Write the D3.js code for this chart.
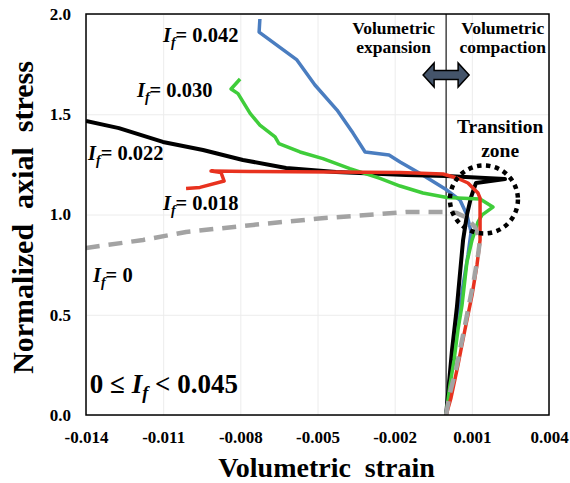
<!DOCTYPE html>
<html>
<head>
<meta charset="utf-8">
<script src="https://cdn.jsdelivr.net/npm/d3@7"></script>
<style>
  body { margin: 0; background: #fff; }
  svg { display: block; font-family: 'Liberation Serif', 'Times New Roman', serif; font-weight: bold; }
  text { white-space: pre; }
</style>
</head>
<body>
<div id="chart"></div>
<script>
const WIDTH = 570;
const HEIGHT = 483;
const MARGIN = { TOP: 14, RIGHT: 21, BOTTOM: 68, LEFT: 86 };
const TICK_FONT_SIZE = 17;

const xDomain = [-0.014, 0.004];
const yDomain = [0, 2];
const xTickValues = [-0.014, -0.011, -0.008, -0.005, -0.002, 0.001, 0.004];
const xTickLabels = ['-0.014', '-0.011', '-0.008', '-0.005', '-0.002', '0.001', '0.004'];
const yTickValues = [0, 0.5, 1, 1.5, 2];
const yTickLabels = ['0.0', '0.5', '1.0', '1.5', '2.0'];

// [volumetric strain, normalized axial stress]
const curveIf042 = [
  [0, 0], [0.00011, 0.15], [0.00027, 0.299], [0.00046, 0.474], [0.00066, 0.648],
  [0.00085, 0.798], [0.00097, 0.913], [0.00081, 0.998], [0.00054, 1.072],
  [0.00003, 1.122], [-0.00101, 1.204], [-0.00179, 1.262], [-0.00222, 1.297],
  [-0.00315, 1.312], [-0.00362, 1.406], [-0.00424, 1.521], [-0.0051, 1.646],
  [-0.0058, 1.771], [-0.00727, 1.91], [-0.00724, 1.975],
];
const curveIf022 = [
  [0, 0], [0.00023, 0.324], [0.00042, 0.539], [0.00066, 0.873], [0.00081, 0.998],
  [0.00097, 1.087], [0.00116, 1.157], [0.00229, 1.177], [0, 1.192],
  [-0.00156, 1.197], [-0.00428, 1.212], [-0.00622, 1.232], [-0.0079, 1.272],
  [-0.00945, 1.322], [-0.01101, 1.362], [-0.01272, 1.431], [-0.014, 1.466],
];
const curveIf030 = [
  [0, 0], [0.00015, 0.15], [0.00031, 0.274], [0.00046, 0.424], [0.00062, 0.549],
  [0.00081, 0.763], [0.00101, 0.873], [0.00124, 0.963], [0.0014, 0.998],
  [0.00155, 1.012], [0.00182, 1.037], [0.00132, 1.077], [0.00003, 1.085],
  [-0.0009, 1.107], [-0.00179, 1.142], [-0.00257, 1.18], [-0.00374, 1.229],
  [-0.00479, 1.279], [-0.00568, 1.312], [-0.0065, 1.354], [-0.00665, 1.387],
  [-0.00724, 1.446], [-0.00762, 1.504], [-0.00809, 1.603], [-0.00836, 1.626],
  [-0.00801, 1.676],
];
const curveIf018 = [
  [0, 0], [0.00019, 0.085], [0.00046, 0.249], [0.00073, 0.424], [0.00101, 0.599],
  [0.0012, 0.748], [0.00132, 0.873], [0.00132, 1.082], [0.00124, 1.107],
  [0.00085, 1.157], [0.00042, 1.182], [-0.00012, 1.202], [-0.00179, 1.209],
  [-0.00451, 1.212], [-0.00762, 1.214], [-0.00914, 1.217], [-0.00875, 1.209],
  [-0.00863, 1.167], [-0.00957, 1.135], [-0.01011, 1.13],
];
const curveIf0 = [
  [0, 0], [0.00015, 0.11], [0.00038, 0.224], [0.00062, 0.374], [0.00085, 0.524],
  [0.00108, 0.673], [0.00124, 0.798], [0.00132, 0.873], [0.00112, 0.938],
  [0.00081, 0.983], [0.00042, 1.007], [0, 1.012], [-0.00156, 1.012],
  [-0.00494, 0.98], [-0.00751, 0.948], [-0.01011, 0.913], [-0.01178, 0.873],
  [-0.014, 0.833],
];

const curveLabels = ['0.042', '0.030', '0.022', '0.018', '0'];
const rangeLabel = ['0 \u2264 ', ' < 0.045'];

// drawing order: blue, black, green, red, grey dashed
const SERIES_STYLE = [
  { data: curveIf042, color: '#4a7dc0', width: 3.5, dash: null },
  { data: curveIf022, color: '#000000', width: 4, dash: null },
  { data: curveIf030, color: '#3fcd3a', width: 3.5, dash: null },
  { data: curveIf018, color: '#e8321f', width: 3.5, dash: null },
  { data: curveIf0, color: '#a3a3a3', width: 4.5, dash: '14 9' },
];

// label anchors in data units [strain, stress]
const LABEL_POS = [
  [-0.01101, 1.862], [-0.01202, 1.586], [-0.01392, 1.272], [-0.01101, 1.022], [-0.01373, 0.663],
];
const RANGE_POS = [-0.01385, 0.11];
const CIRCLE_POS = [0.00147, 1.075];
const ARROW_POS = [0, 1.696];

const getDimensions = () => ({
  width: WIDTH - MARGIN.LEFT - MARGIN.RIGHT,
  height: HEIGHT - MARGIN.TOP - MARGIN.BOTTOM,
});

const addIfLabel = (g, x, y, size, prefix, suffix) => {
  const text = g.append('text').attr('x', x).attr('y', y).style('font-size', `${size}px`);
  if (prefix) text.append('tspan').text(prefix);
  text.append('tspan').style('font-style', 'italic').text('I');
  text.append('tspan')
    .style('font-style', 'italic')
    .style('font-size', `${size * 0.68}px`)
    .attr('dy', size * 0.24)
    .text('f');
  text.append('tspan').attr('dy', -size * 0.24).text(suffix);
  return text;
};

const createChart = (containerNode) => {
  const { width, height } = getDimensions();
  const svg = d3.select(containerNode)
    .append('svg')
    .attr('width', WIDTH)
    .attr('height', HEIGHT);

  const g = svg.append('g').attr('transform', `translate(${MARGIN.LEFT}, ${MARGIN.TOP})`);

  const x = d3.scaleLinear(xDomain, [0, width]);
  const y = d3.scaleLinear(yDomain, [height, 0]);

  // gridlines
  g.append('g')
    .attr('transform', `translate(0, ${height})`)
    .call(d3.axisBottom(x).tickValues(xTickValues).tickSize(-height).tickFormat(''))
    .call((s) => s.select('.domain').remove())
    .call((s) => s.selectAll('line').attr('stroke', '#ececec'));
  g.append('g')
    .call(d3.axisLeft(y).tickValues(yTickValues).tickSize(-width).tickFormat(''))
    .call((s) => s.select('.domain').remove())
    .call((s) => s.selectAll('line').attr('stroke', '#ececec'));

  // tick labels
  g.append('g')
    .attr('transform', `translate(0, ${height})`)
    .call(d3.axisBottom(x).tickValues(xTickValues).tickSize(0).tickPadding(16)
      .tickFormat((d, i) => xTickLabels[i]))
    .call((s) => s.select('.domain').remove())
    .selectAll('text')
    .attr('fill', '#000')
    .style('font-family', 'Liberation Serif')
    .style('font-weight', 'bold')
    .style('font-size', `${TICK_FONT_SIZE}px`);
  g.append('g')
    .call(d3.axisLeft(y).tickValues(yTickValues).tickSize(0).tickPadding(15)
      .tickFormat((d, i) => yTickLabels[i]))
    .call((s) => s.select('.domain').remove())
    .selectAll('text')
    .attr('fill', '#000')
    .style('font-family', 'Liberation Serif')
    .style('font-weight', 'bold')
    .style('font-size', `${TICK_FONT_SIZE}px`);

  // zero strain line
  g.append('line')
    .attr('x1', x(0)).attr('x2', x(0))
    .attr('y1', 0).attr('y2', height)
    .attr('stroke', '#000')
    .attr('stroke-width', 1.1);

  svg.append('clipPath').attr('id', 'plot-clip')
    .append('rect').attr('width', width).attr('height', height);

  const line = d3.line().x((d) => x(d[0])).y((d) => y(d[1]));
  const curves = g.append('g').attr('clip-path', 'url(#plot-clip)');
  SERIES_STYLE.forEach(({ data, color, width: w, dash }) => {
    curves.append('path')
      .datum(data)
      .attr('d', line)
      .attr('fill', 'none')
      .attr('stroke', color)
      .attr('stroke-width', w)
      .attr('stroke-linejoin', 'round')
      .attr('stroke-dasharray', dash);
  });

  // frame
  g.append('rect')
    .attr('width', width).attr('height', height)
    .attr('fill', 'none')
    .attr('stroke', '#000')
    .attr('stroke-width', 1.5);

  // transition zone circle
  g.append('circle')
    .attr('cx', x(CIRCLE_POS[0])).attr('cy', y(CIRCLE_POS[1]))
    .attr('r', 34)
    .attr('fill', 'none')
    .attr('stroke', '#000')
    .attr('stroke-width', 4.5)
    .attr('stroke-dasharray', '4.5 4.5');

  // double arrow
  const ax = x(ARROW_POS[0]);
  const ay = y(ARROW_POS[1]);
  const arrow = [[-23, 0], [-12, -12], [-12, -4.5], [12, -4.5], [12, -12], [23, 0],
    [12, 12], [12, 4.5], [-12, 4.5], [-12, 12]];
  g.append('polygon')
    .attr('points', arrow.map(([px, py]) => `${ax + px},${ay + py}`).join(' '))
    .attr('fill', '#44546a')
    .attr('stroke', '#000')
    .attr('stroke-width', 1.5);

  // zone captions
  const captions = g.append('g').style('font-size', '17.5px').attr('text-anchor', 'middle');
  captions.append('text').attr('x', x(-0.00204)).attr('y', 20).text('Volumetric');
  captions.append('text').attr('x', x(-0.00204)).attr('y', 39).text('expansion');
  captions.append('text').attr('x', x(0.0022)).attr('y', 20).text('Volumetric');
  captions.append('text').attr('x', x(0.0022)).attr('y', 39).text('compaction');
  captions.append('text').attr('x', x(0.0021)).attr('y', 119).style('font-size', '19.5px').text('Transition');
  captions.append('text').attr('x', x(0.0021)).attr('y', 143).style('font-size', '19.5px').text('zone');

  // curve labels
  curveLabels.forEach((label, i) => {
    addIfLabel(g, x(LABEL_POS[i][0]), y(LABEL_POS[i][1]), 20.5, null, `= ${label}`);
  });
  addIfLabel(g, x(RANGE_POS[0]), y(RANGE_POS[1]), 27, rangeLabel[0], rangeLabel[1]);

  // axis titles
  svg.append('text')
    .attr('x', MARGIN.LEFT + width / 2 + 9)
    .attr('y', 477)
    .attr('text-anchor', 'middle')
    .style('font-size', '28px')
    .text('Volumetric  strain');
  svg.append('text')
    .attr('transform', `translate(33, ${MARGIN.TOP + height / 2 + 3}) rotate(-90)`)
    .attr('text-anchor', 'middle')
    .style('font-size', '30px')
    .text('Normalized  axial  stress');
};

createChart(document.getElementById('chart'));
</script>
</body>
</html>
